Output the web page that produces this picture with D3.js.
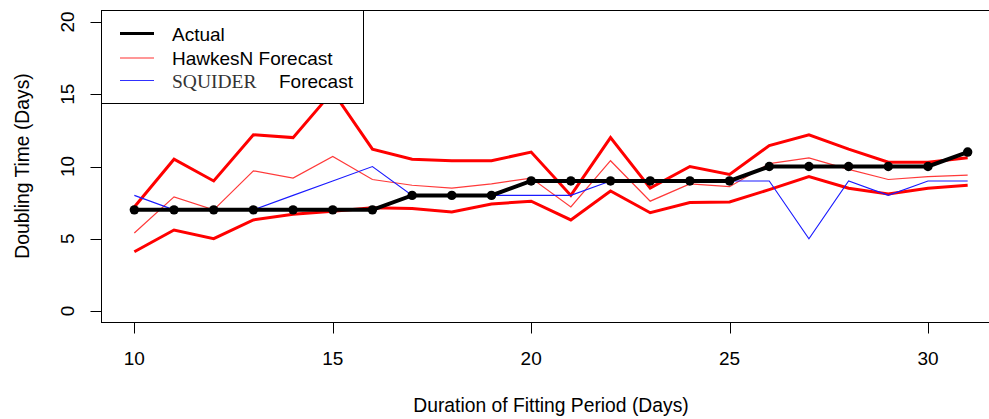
<!DOCTYPE html>
<html>
<head>
<meta charset="utf-8">
<script src="https://cdn.jsdelivr.net/npm/d3@7"></script>
<style>
  body { margin: 0; background: #fff; }
  text { font-family: "Liberation Sans", Arial, sans-serif; fill: #000; }
</style>
</head>
<body>
<div id="chart"></div>
<script>
var days = [10, 11, 12, 13, 14, 15, 16, 17, 18, 19, 20, 21, 22, 23, 24, 25, 26, 27, 28, 29, 30, 31];
var actual = [7, 7, 7, 7, 7, 7, 7, 8, 8, 8, 9, 9, 9, 9, 9, 9, 10, 10, 10, 10, 10, 11];
var hawkesMean = [5.4, 7.9, 7.0, 9.7, 9.2, 10.7, 9.1, 8.7, 8.5, 8.8, 9.2, 7.2, 10.4, 7.6, 8.8, 8.6, 10.2, 10.6, 9.8, 9.1, 9.3, 9.4];
var hawkesUpper = [7.2, 10.5, 9.0, 12.2, 12.0, 15.2, 11.2, 10.5, 10.4, 10.4, 11.0, 8.0, 12.0, 8.5, 10.0, 9.45, 11.45, 12.2, 11.2, 10.3, 10.3, 10.6];
var hawkesLower = [4.1, 5.6, 5.0, 6.3, 6.7, 6.9, 7.15, 7.1, 6.85, 7.4, 7.6, 6.3, 8.3, 6.8, 7.5, 7.55, 8.4, 9.3, 8.5, 8.1, 8.5, 8.7];
var squider = [8, 7, 7, 7, 8, 9, 10, 8, 8, 8, 8, 8, 9, 9, 9, 9, 9, 5, 9, 8, 9, 9];
var xTicks = [10, 15, 20, 25, 30];
var yTicks = [0, 5, 10, 15, 20];

(function () {
  var width = 989, height = 419;
  // plot region, R style with 4% padding on each axis
  var left = 101, right = 1001, top = 10.5, bottom = 322.5;

  var x = d3.scaleLinear().domain([9.16, 31.84]).range([left, right]);
  var y = d3.scaleLinear().domain([-0.8, 20.8]).range([bottom, top]);

  var svg = d3.select('#chart').append('svg')
    .attr('width', width)
    .attr('height', height);

  svg.append('clipPath').attr('id', 'plot-clip')
    .append('rect')
    .attr('x', left).attr('y', top)
    .attr('width', right - left).attr('height', bottom - top);

  var plot = svg.append('g').attr('clip-path', 'url(#plot-clip)');

  function series(values) {
    return values.map(function (v, i) { return [days[i], v]; });
  }

  var line = d3.line()
    .x(function (d) { return x(d[0]); })
    .y(function (d) { return y(d[1]); });

  function drawLine(values, color, w) {
    plot.append('path')
      .datum(series(values))
      .attr('d', line)
      .attr('fill', 'none')
      .attr('stroke', color)
      .attr('stroke-width', w)
      .attr('stroke-linejoin', 'miter');
  }

  drawLine(hawkesUpper, '#ff0000', 3);
  drawLine(hawkesLower, '#ff0000', 3);
  drawLine(hawkesMean, '#ff3a3a', 1.2);
  drawLine(squider, '#1a1aff', 1.1);
  drawLine(actual, '#000000', 4);

  plot.selectAll('.pt')
    .data(series(actual))
    .enter().append('circle')
    .attr('class', 'pt')
    .attr('cx', function (d) { return x(d[0]); })
    .attr('cy', function (d) { return y(d[1]); })
    .attr('r', 4.7)
    .attr('fill', '#000');

  // box
  svg.append('rect')
    .attr('x', left + 0.5).attr('y', top)
    .attr('width', right - left).attr('height', bottom - top)
    .attr('fill', 'none')
    .attr('stroke', '#000')
    .attr('stroke-width', 1);

  // x axis
  var xAxis = svg.append('g').attr('transform', 'translate(0,' + bottom + ')');
  xAxis.append('line')
    .attr('x1', x(10)).attr('x2', x(30))
    .attr('y1', 0).attr('y2', 0)
    .attr('stroke', '#000');
  xAxis.selectAll('.tick')
    .data(xTicks)
    .enter().append('line')
    .attr('x1', function (d) { return Math.round(x(d)) + 0.5; })
    .attr('x2', function (d) { return Math.round(x(d)) + 0.5; })
    .attr('y1', 0).attr('y2', 11)
    .attr('stroke', '#000');
  xAxis.selectAll('.lab')
    .data(xTicks)
    .enter().append('text')
    .attr('x', function (d) { return x(d); })
    .attr('y', 42.5)
    .attr('text-anchor', 'middle')
    .style('font-size', '19px')
    .text(function (d) { return d; });

  // y axis
  var yAxis = svg.append('g').attr('transform', 'translate(' + (left + 0.5) + ',0)');
  yAxis.selectAll('.tick')
    .data(yTicks)
    .enter().append('line')
    .attr('x1', -11).attr('x2', 0)
    .attr('y1', function (d) { return Math.round(y(d)) + 0.5; })
    .attr('y2', function (d) { return Math.round(y(d)) + 0.5; })
    .attr('stroke', '#000');
  yAxis.selectAll('.lab')
    .data(yTicks)
    .enter().append('text')
    .attr('transform', function (d) { return 'translate(-28,' + y(d) + ') rotate(-90)'; })
    .attr('text-anchor', 'middle')
    .style('font-size', '19px')
    .text(function (d) { return d; });

  svg.append('text')
    .attr('x', 551)
    .attr('y', 412)
    .attr('text-anchor', 'middle')
    .style('font-size', '19.3px')
    .text('Duration of Fitting Period (Days)');

  svg.append('text')
    .attr('transform', 'translate(29,166) rotate(-90)')
    .attr('text-anchor', 'middle')
    .style('font-size', '19.3px')
    .text('Doubling Time (Days)');

  // legend
  var legend = svg.append('g');
  legend.append('rect')
    .attr('x', 101.5).attr('y', 10.5)
    .attr('width', 262).attr('height', 93)
    .attr('fill', '#fff')
    .attr('stroke', '#000');

  var items = [
    { color: '#000', w: 3 },
    { color: '#ff3030', w: 1.2 },
    { color: '#3030ff', w: 1.2 }
  ];
  var rowY = [33.5, 58, 80.5];
  items.forEach(function (it, i) {
    legend.append('line')
      .attr('x1', 120).attr('x2', 154)
      .attr('y1', rowY[i]).attr('y2', rowY[i])
      .attr('stroke', it.color)
      .attr('stroke-width', it.w);
  });
  legend.append('text').attr('x', 172).attr('y', rowY[0] + 7)
    .style('font-size', '19px').text('Actual');
  legend.append('text').attr('x', 172).attr('y', rowY[1] + 7)
    .style('font-size', '19px').text('HawkesN Forecast');
  legend.append('text').attr('x', 172).attr('y', rowY[2] + 7)
    .style('font-family', '"Liberation Serif", "Times New Roman", serif')
    .style('font-size', '19.5px')
    .style('fill', '#333')
    .text('SQUIDER');
  legend.append('text').attr('x', 279).attr('y', rowY[2] + 7)
    .style('font-size', '19px').text('Forecast');
})();
</script>
</body>
</html>
